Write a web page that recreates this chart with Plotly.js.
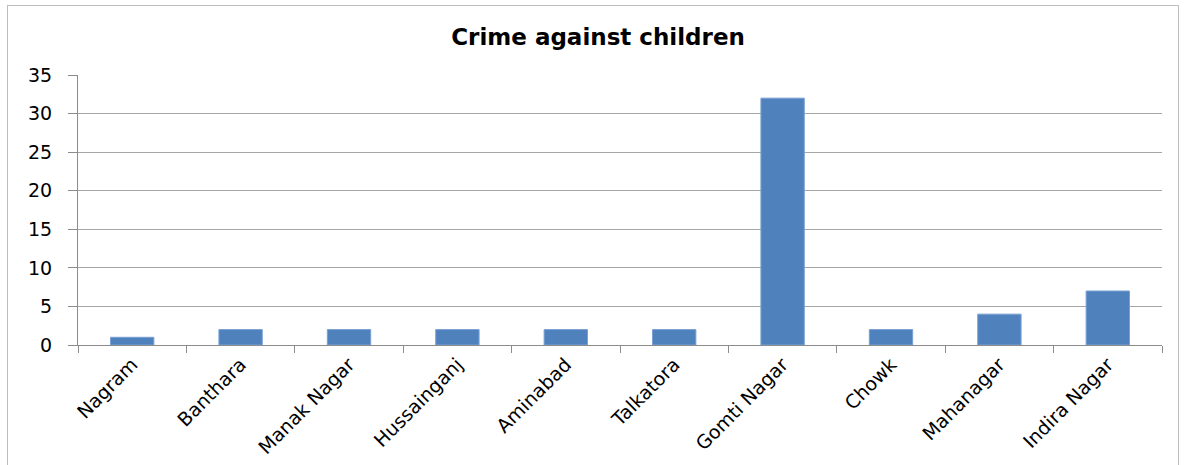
<!DOCTYPE html>
<html><head><meta charset="utf-8">
<script src="https://cdn.plot.ly/plotly-3.0.1.min.js"></script>
<style>
html,body{margin:0;padding:0;background:#fff;}
#wrap{position:relative;width:1189px;height:465px;overflow:hidden;}
#frame{position:absolute;left:7px;top:5px;width:1172px;height:470px;border:1px solid #bdbdbd;box-sizing:border-box;pointer-events:none;z-index:5;}
#chart{position:absolute;left:0;top:0;width:1189px;height:465px;}
</style></head>
<body><div id="wrap"><div id="chart"></div><div id="frame"></div></div>
<script>
const categories = ["Nagram","Banthara","Manak Nagar","Hussainganj","Aminabad","Talkatora","Gomti Nagar","Chowk","Mahanagar","Indira Nagar"];
const values = [1,2,2,2,2,2,32,2,4,7];
const yTicks = [0,5,10,15,20,25,30,35];

const font = "DejaVu Sans, Verdana, sans-serif";
Plotly.newPlot('chart', [{
  type:'bar', x:categories, y:values,
  marker:{color:'#4f81bd', line:{color:'#7aa0d4', width:1}},
  width:0.4, hoverinfo:'x+y'
}], {
  width:1189, height:465,
  margin:{l:78, r:27, t:75, b:120, pad:0},
  paper_bgcolor:'#fff', plot_bgcolor:'#fff',
  title:{text:'<b>Crime against children</b>', x:0.503, xanchor:'center', y:0.92, yanchor:'middle', font:{family:font, size:23, color:'#000'}},
  showlegend:false,
  xaxis:{type:'category', tickangle:-45, tickson:'boundaries', ticks:'outside', ticklen:7, tickcolor:'#8c8c8c', tickwidth:1,
         showline:true, linecolor:'#8c8c8c', linewidth:1, showgrid:false, tickfont:{family:font, size:19, color:'#000'}},
  yaxis:{range:[0,35], tickvals:yTicks, ticks:'outside', ticklen:9, tickcolor:'#8c8c8c', showline:true, linecolor:'#8c8c8c', linewidth:1,
         showgrid:true, gridcolor:'#a6a6a6', gridwidth:1, zeroline:false, tickfont:{family:font, size:19, color:'#000'}, ticklabelstandoff:12}
}, {staticPlot:true});
</script></body></html>
